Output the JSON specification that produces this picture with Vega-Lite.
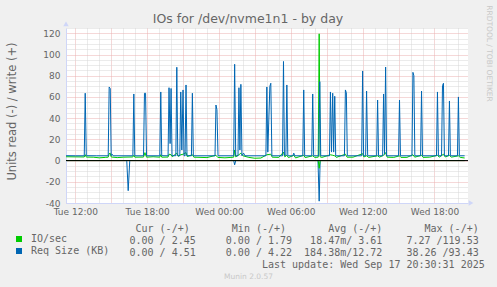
{
  "$schema": "https://vega.github.io/schema/vega-lite/v6.json",
  "width": 402,
  "height": 175,
  "autosize": "none",
  "padding": {"left": 66, "top": 28, "right": 29, "bottom": 84},
  "background": "#F0F0F0",
  "view": {"fill": "#FFFFFF", "stroke": null},
  "title": {"text": "IOs for /dev/nvme1n1 - by day", "font": "DejaVu Sans", "fontSize": 12.5, "fontWeight": "normal", "color": "#666666", "anchor": "middle", "dx": -19, "baseline": "alphabetic", "offset": -31},
  "config": {
    "legend": {"orient": "none", "legendX": -52, "legendY": 206, "direction": "vertical", "padding": 0, "offset": 0, "symbolType": "square", "symbolSize": 36, "symbolStrokeWidth": 0, "labelFont": "DejaVu Sans Mono", "labelFontSize": 10, "labelColor": "#666666", "labelOffset": 7, "rowPadding": 2, "labelLimit": 0}
  },
  "datasets": {
    "reqR": [{"hour": 11.23, "value": 0}, {"hour": 16.3, "value": 0}, {"hour": 16.42, "value": -28.4}, {"hour": 16.55, "value": 0}, {"hour": 25.23, "value": 0}, {"hour": 25.31, "value": -4}, {"hour": 25.4, "value": 0}, {"hour": 32.27, "value": 0}, {"hour": 32.37, "value": -38.26}, {"hour": 32.45, "value": 0}, {"hour": 44.52, "value": 0}],
    "ioR": [{"hour": 11.23, "value": 0}, {"hour": 32.29, "value": 0}, {"hour": 32.37, "value": -7.27}, {"hour": 32.45, "value": 0}, {"hour": 44.52, "value": 0}],
    "ioW": [{"hour": 11.23, "value": 3.6}, {"hour": 12.0, "value": 3.5}, {"hour": 12.75, "value": 3.4}, {"hour": 12.83, "value": 5.5}, {"hour": 12.92, "value": 3.3}, {"hour": 13.5, "value": 3.2}, {"hour": 14.0, "value": 2.6}, {"hour": 14.5, "value": 3.0}, {"hour": 14.75, "value": 3.2}, {"hour": 14.83, "value": 6.5}, {"hour": 14.92, "value": 7.0}, {"hour": 15.0, "value": 3.4}, {"hour": 15.5, "value": 2.8}, {"hour": 16.0, "value": 3.2}, {"hour": 16.81, "value": 3.4}, {"hour": 16.89, "value": 5.0}, {"hour": 16.97, "value": 3.2}, {"hour": 17.7, "value": 3.3}, {"hour": 17.82, "value": 7.5}, {"hour": 17.95, "value": 3.2}, {"hour": 18.5, "value": 3.6}, {"hour": 19.06, "value": 3.2}, {"hour": 19.14, "value": 5.5}, {"hour": 19.22, "value": 3.2}, {"hour": 19.75, "value": 3.3}, {"hour": 19.83, "value": 6.0}, {"hour": 20.0, "value": 5.5}, {"hour": 20.1, "value": 3.6}, {"hour": 20.48, "value": 7.0}, {"hour": 20.6, "value": 4.0}, {"hour": 20.81, "value": 5.5}, {"hour": 21.0, "value": 6.0}, {"hour": 21.25, "value": 7.5}, {"hour": 21.35, "value": 3.8}, {"hour": 21.78, "value": 5.5}, {"hour": 21.9, "value": 3.2}, {"hour": 22.5, "value": 3.0}, {"hour": 23.0, "value": 2.8}, {"hour": 23.75, "value": 5.0}, {"hour": 23.9, "value": 3.0}, {"hour": 24.5, "value": 2.6}, {"hour": 25.0, "value": 3.0}, {"hour": 25.23, "value": 3.2}, {"hour": 25.31, "value": 10.0}, {"hour": 25.4, "value": 3.5}, {"hour": 25.67, "value": 5.5}, {"hour": 25.83, "value": 7.0}, {"hour": 26.0, "value": 4.5}, {"hour": 26.5, "value": 3.0}, {"hour": 27.0, "value": 2.2}, {"hour": 27.5, "value": 2.4}, {"hour": 28.0, "value": 5.5}, {"hour": 28.33, "value": 6.0}, {"hour": 28.45, "value": 3.2}, {"hour": 29.0, "value": 3.0}, {"hour": 29.39, "value": 8.0}, {"hour": 29.5, "value": 3.5}, {"hour": 29.67, "value": 5.0}, {"hour": 29.8, "value": 2.8}, {"hour": 30.25, "value": 5.0}, {"hour": 30.4, "value": 2.5}, {"hour": 31.08, "value": 5.0}, {"hour": 31.2, "value": 2.8}, {"hour": 31.83, "value": 4.5}, {"hour": 32.0, "value": 3.0}, {"hour": 32.29, "value": 3.2}, {"hour": 32.37, "value": 119.53}, {"hour": 32.45, "value": 3.5}, {"hour": 32.6, "value": 3.0}, {"hour": 33.31, "value": 5.5}, {"hour": 33.5, "value": 5.0}, {"hour": 33.67, "value": 4.5}, {"hour": 33.8, "value": 3.0}, {"hour": 34.56, "value": 6.0}, {"hour": 34.7, "value": 3.2}, {"hour": 35.2, "value": 3.2}, {"hour": 36.0, "value": 6.5}, {"hour": 36.1, "value": 3.4}, {"hour": 36.33, "value": 4.5}, {"hour": 36.5, "value": 3.0}, {"hour": 37.25, "value": 4.5}, {"hour": 37.4, "value": 3.2}, {"hour": 37.75, "value": 5.0}, {"hour": 37.92, "value": 7.5}, {"hour": 38.05, "value": 3.2}, {"hour": 38.6, "value": 3.0}, {"hour": 39.08, "value": 4.5}, {"hour": 39.2, "value": 3.0}, {"hour": 39.7, "value": 3.0}, {"hour": 40.2, "value": 5.5}, {"hour": 40.35, "value": 3.2}, {"hour": 40.92, "value": 5.0}, {"hour": 41.05, "value": 3.0}, {"hour": 41.6, "value": 3.2}, {"hour": 42.25, "value": 5.0}, {"hour": 42.4, "value": 3.2}, {"hour": 42.75, "value": 6.0}, {"hour": 42.9, "value": 3.4}, {"hour": 43.25, "value": 5.0}, {"hour": 43.4, "value": 3.2}, {"hour": 44.0, "value": 4.5}, {"hour": 44.15, "value": 3.0}, {"hour": 44.52, "value": 2.45}],
    "reqW": [{"hour": 11.23, "value": 4.6}, {"hour": 12.0, "value": 4.5}, {"hour": 12.75, "value": 4.5}, {"hour": 12.83, "value": 63.5}, {"hour": 12.92, "value": 4.6}, {"hour": 13.8, "value": 4.5}, {"hour": 14.75, "value": 4.5}, {"hour": 14.83, "value": 69.4}, {"hour": 14.92, "value": 68.0}, {"hour": 15.0, "value": 4.6}, {"hour": 15.08, "value": 6.0}, {"hour": 15.17, "value": 4.5}, {"hour": 16.81, "value": 4.5}, {"hour": 16.89, "value": 62.8}, {"hour": 16.97, "value": 4.5}, {"hour": 17.7, "value": 4.5}, {"hour": 17.78, "value": 63.5}, {"hour": 17.87, "value": 63.5}, {"hour": 17.95, "value": 4.5}, {"hour": 19.06, "value": 4.5}, {"hour": 19.14, "value": 64.7}, {"hour": 19.22, "value": 4.6}, {"hour": 19.75, "value": 4.5}, {"hour": 19.83, "value": 68.7}, {"hour": 19.92, "value": 16}, {"hour": 20.0, "value": 68.0}, {"hour": 20.08, "value": 4.6}, {"hour": 20.4, "value": 4.6}, {"hour": 20.48, "value": 88.0}, {"hour": 20.56, "value": 4.6}, {"hour": 20.73, "value": 4.5}, {"hour": 20.81, "value": 64.7}, {"hour": 20.9, "value": 10}, {"hour": 21.0, "value": 66.6}, {"hour": 21.08, "value": 4.6}, {"hour": 21.17, "value": 4.5}, {"hour": 21.25, "value": 71.3}, {"hour": 21.33, "value": 4.6}, {"hour": 21.7, "value": 4.5}, {"hour": 21.78, "value": 63.5}, {"hour": 21.86, "value": 4.5}, {"hour": 23.67, "value": 4.5}, {"hour": 23.75, "value": 52.4}, {"hour": 23.83, "value": 48}, {"hour": 23.92, "value": 4.5}, {"hour": 25.23, "value": 4.5}, {"hour": 25.31, "value": 90.8}, {"hour": 25.4, "value": 4.5}, {"hour": 25.59, "value": 4.5}, {"hour": 25.67, "value": 68.7}, {"hour": 25.75, "value": 10}, {"hour": 25.83, "value": 71.9}, {"hour": 25.92, "value": 4.6}, {"hour": 26.06, "value": 7}, {"hour": 26.17, "value": 4.5}, {"hour": 27.92, "value": 4.5}, {"hour": 28.0, "value": 69.4}, {"hour": 28.08, "value": 8}, {"hour": 28.25, "value": 70}, {"hour": 28.33, "value": 72.9}, {"hour": 28.42, "value": 4.5}, {"hour": 29.31, "value": 4.5}, {"hour": 29.39, "value": 93.43}, {"hour": 29.47, "value": 5}, {"hour": 29.59, "value": 5}, {"hour": 29.67, "value": 71.3}, {"hour": 29.75, "value": 4.5}, {"hour": 30.17, "value": 4.5}, {"hour": 30.25, "value": 7}, {"hour": 30.33, "value": 4.5}, {"hour": 31.0, "value": 4.5}, {"hour": 31.08, "value": 66.6}, {"hour": 31.16, "value": 4.5}, {"hour": 31.75, "value": 4.5}, {"hour": 31.83, "value": 62.8}, {"hour": 31.91, "value": 4.5}, {"hour": 32.33, "value": 4.5}, {"hour": 32.42, "value": 74.4}, {"hour": 32.5, "value": 4.5}, {"hour": 33.23, "value": 4.5}, {"hour": 33.31, "value": 64.7}, {"hour": 33.4, "value": 8}, {"hour": 33.5, "value": 63.5}, {"hour": 33.58, "value": 8}, {"hour": 33.67, "value": 60.6}, {"hour": 33.75, "value": 4.5}, {"hour": 34.48, "value": 4.5}, {"hour": 34.56, "value": 66.6}, {"hour": 34.64, "value": 64}, {"hour": 34.72, "value": 4.5}, {"hour": 35.92, "value": 4.5}, {"hour": 36.0, "value": 84.5}, {"hour": 36.08, "value": 4.5}, {"hour": 36.25, "value": 4.5}, {"hour": 36.33, "value": 65.6}, {"hour": 36.42, "value": 4.5}, {"hour": 37.17, "value": 4.5}, {"hour": 37.25, "value": 57.1}, {"hour": 37.33, "value": 4.5}, {"hour": 37.67, "value": 4.5}, {"hour": 37.75, "value": 62.8}, {"hour": 37.83, "value": 6}, {"hour": 37.92, "value": 88.2}, {"hour": 38.0, "value": 4.5}, {"hour": 39.0, "value": 4.5}, {"hour": 39.08, "value": 57.1}, {"hour": 39.16, "value": 4.5}, {"hour": 40.12, "value": 4.5}, {"hour": 40.2, "value": 83.2}, {"hour": 40.28, "value": 80}, {"hour": 40.36, "value": 4.5}, {"hour": 40.84, "value": 4.5}, {"hour": 40.92, "value": 65.6}, {"hour": 41.0, "value": 4.5}, {"hour": 42.17, "value": 4.5}, {"hour": 42.25, "value": 64.7}, {"hour": 42.33, "value": 4.5}, {"hour": 42.59, "value": 4.5}, {"hour": 42.67, "value": 70.6}, {"hour": 42.75, "value": 72.9}, {"hour": 42.83, "value": 4.5}, {"hour": 43.17, "value": 4.5}, {"hour": 43.25, "value": 56.2}, {"hour": 43.33, "value": 4.5}, {"hour": 43.92, "value": 4.5}, {"hour": 44.0, "value": 60}, {"hour": 44.08, "value": 4.5}, {"hour": 44.52, "value": 4.51}]
  },
  "resolve": {"axis": {"x": "independent", "y": "independent"}},
  "layer": [
    {
      "data": {"name": "reqR"},
      "mark": {"type": "line", "strokeWidth": 1, "interpolate": "linear"},
      "encoding": {
        "x": {"field": "hour", "type": "quantitative",
          "scale": {"domain": [11.225, 44.8], "nice": false, "zero": false},
          "axis": {
            "values": [12,13,14,15,16,17,18,19,20,21,22,23,24,25,26,27,28,29,30,31,32,33,34,35,36,37,38,39,40,41,42,43,44],
            "labelExpr": "datum.value % 6 === 0 ? ((datum.value < 24 ? 'Tue ' : 'Wed ') + (datum.value % 24 < 10 ? '0' : '') + (datum.value % 24) + ':00') : ''",
            "grid": true,
            "gridColor": {"condition": {"test": "datum.value % 3 === 0", "value": "#EBB0B0"}, "value": "#D6D6D6"},
            "gridDash": [1, 1],
            "gridWidth": 1,
            "ticks": false,
            "domainColor": "#CFD6F8",
            "labelFont": "DejaVu Sans",
            "labelFontSize": 9,
            "labelColor": "#666666",
            "labelPadding": 4,
            "labelFlush": false,
            "labelOverlap": false,
            "title": [
              "\u200b\u00a0Cur\u00a0(-/+)\u00a0\u00a0\u00a0\u00a0\u00a0\u00a0\u00a0Min\u00a0(-/+)\u00a0\u00a0\u00a0\u00a0\u00a0\u00a0\u00a0Avg\u00a0(-/+)\u00a0\u00a0\u00a0\u00a0\u00a0\u00a0\u00a0Max\u00a0(-/+)",
              "0.00\u00a0/\u00a02.45\u00a0\u00a0\u00a0\u00a0\u00a00.00\u00a0/\u00a01.79\u00a0\u00a0\u00a018.47m/\u00a03.61\u00a0\u00a0\u00a0\u00a07.27\u00a0/119.53",
              "0.00\u00a0/\u00a04.51\u00a0\u00a0\u00a0\u00a0\u00a00.00\u00a0/\u00a04.22\u00a0\u00a0184.38m/12.72\u00a0\u00a0\u00a0\u00a038.26\u00a0/93.43",
              "\u200b\u00a0\u00a0\u00a0\u00a0\u00a0\u00a0\u00a0\u00a0\u00a0\u00a0\u00a0\u00a0\u00a0\u00a0\u00a0\u00a0\u00a0\u00a0\u00a0\u00a0\u00a0\u00a0Last\u00a0update:\u00a0Wed\u00a0Sep\u00a017\u00a020:30:31\u00a02025"
            ],
            "titleFont": "DejaVu Sans Mono",
            "titleFontSize": 10,
            "titleFontWeight": "normal",
            "titleColor": "#666666",
            "titleAnchor": "start",
            "titleAlign": "left",
            "titleBaseline": "alphabetic",
            "titleX": 63.0,
            "titleY": 28,
            "titleLineHeight": 12
          }
        },
        "y": {"field": "value", "type": "quantitative",
          "scale": {"domain": [-40, 125], "nice": false, "zero": false},
          "axis": {
            "values": [-40,-35,-30,-25,-20,-15,-10,-5,0,5,10,15,20,25,30,35,40,45,50,55,60,65,70,75,80,85,90,95,100,105,110,115,120,125],
            "labelExpr": "datum.value % 20 === 0 ? '' + datum.value : ''",
            "grid": true,
            "gridColor": {"condition": {"test": "datum.value % 20 === 0", "value": "#EBB0B0"}, "value": "#D6D6D6"},
            "gridDash": [1, 1],
            "gridWidth": 1,
            "ticks": false,
            "domainColor": "#CFD6F8",
            "labelFont": "DejaVu Sans",
            "labelFontSize": 9,
            "labelColor": "#666666",
            "labelPadding": 6,
            "labelOverlap": false,
            "labelFlush": false,
            "title": "Units read (-) / write (+)",
            "titleFont": "DejaVu Sans",
            "titleFontSize": 11.5,
            "titleFontWeight": "normal",
            "titleColor": "#666666",
            "titleAngle": -90,
            "titleAlign": "center",
            "titleBaseline": "middle",
            "titleX": -54,
            "titleY": 83
          }
        },
        "color": {"datum": "Req Size (KB)", "type": "nominal",
          "scale": {"domain": ["IO/sec", "Req Size (KB)"], "range": ["#00CC00", "#0066B3"]},
          "legend": {"title": null, "encode": {"symbols": {"update": {"fill": {"scale": "color", "field": "value"}, "shape": {"value": "square"}}}}}
        }
      }
    },
    {
      "data": {"name": "ioR"},
      "mark": {"type": "line", "strokeWidth": 1},
      "encoding": {
        "x": {"field": "hour", "type": "quantitative",
          "axis": {"orient": "top", "labels": false, "ticks": false, "domain": false, "grid": false,
            "title": "Munin 2.0.57", "titleFont": "DejaVu Sans", "titleFontSize": 7.5, "titleFontWeight": "normal", "titleColor": "#C8C8C8",
            "titleX": 182, "titleY": 248, "titleAlign": "center", "titleBaseline": "middle"}
        },
        "y": {"field": "value", "type": "quantitative",
          "axis": {"orient": "right", "labels": false, "ticks": false, "domain": false, "grid": false,
            "title": "RRDTOOL / TOBI OETIKER", "titleFont": "DejaVu Sans", "titleFontSize": 7.5, "titleFontWeight": "normal", "titleColor": "#C8C8C8",
            "titleAngle": 90, "titleX": 20, "titleY": 25, "titleAlign": "center", "titleBaseline": "middle"}
        },
        "color": {"datum": "IO/sec", "type": "nominal"}
      }
    },
    {
      "data": {"values": [{}]},
      "mark": {"type": "rule", "color": "#000000", "strokeWidth": 1},
      "encoding": {"y": {"datum": 0, "axis": null}}
    },
    {
      "data": {"name": "ioW"},
      "mark": {"type": "line", "strokeWidth": 1},
      "encoding": {
        "x": {"field": "hour", "type": "quantitative", "axis": null},
        "y": {"field": "value", "type": "quantitative", "axis": null},
        "color": {"datum": "IO/sec", "type": "nominal"}
      }
    },
    {
      "data": {"name": "reqW"},
      "mark": {"type": "line", "strokeWidth": 1},
      "encoding": {
        "x": {"field": "hour", "type": "quantitative", "axis": null},
        "y": {"field": "value", "type": "quantitative", "axis": null},
        "color": {"datum": "Req Size (KB)", "type": "nominal"}
      }
    },
    {
      "data": {"values": [{}]},
      "mark": {"type": "point", "shape": "triangle-right", "filled": true, "color": "#CFD6F8", "opacity": 1, "size": 30},
      "encoding": {"x": {"datum": 45.05, "axis": null}, "y": {"datum": -40, "axis": null}}
    },
    {
      "data": {"values": [{}]},
      "mark": {"type": "point", "shape": "triangle-up", "filled": true, "color": "#CFD6F8", "opacity": 1, "size": 30},
      "encoding": {"x": {"datum": 11.225, "axis": null}, "y": {"datum": 128.8, "axis": null}}
    }
  ]
}
